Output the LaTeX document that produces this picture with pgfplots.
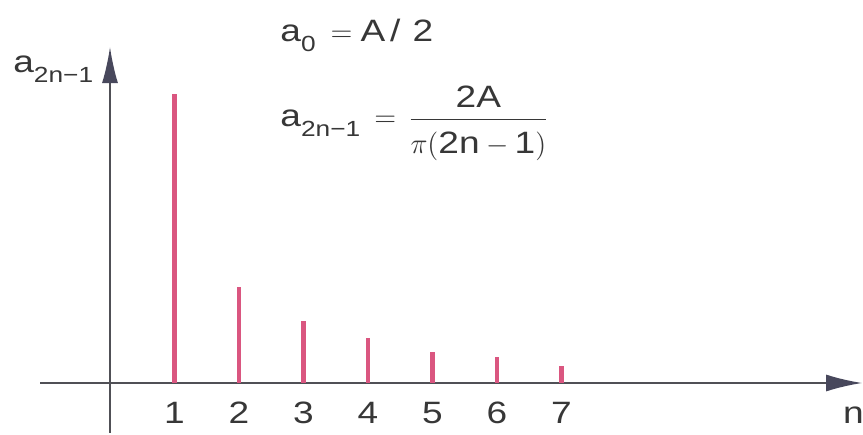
\documentclass[border=0pt]{standalone}
\usepackage{amsmath}
\usepackage{fontspec}
\setmainfont{Liberation Sans}[FakeStretch=1.2]
\usepackage{pgfplots}
\pgfplotsset{compat=1.18}
\usetikzlibrary{arrows.meta}

\definecolor{barpink}{RGB}{218,86,128}
\definecolor{axisgray}{RGB}{80,80,86}
\definecolor{arrowslate}{RGB}{72,72,92}
\definecolor{textgray}{RGB}{55,55,55}

% lowered, smaller index set in the text font
\newcommand\sub[1]{\raisebox{-5bp}{\fontsize{11}{11}\selectfont #1}}

\begin{document}
\begin{tikzpicture}[font=\fontsize{15.5}{18}\selectfont, text=textgray]
\useasboundingbox (-55bp,-26bp) rectangle (376.5bp,191.5bp);
\begin{axis}[
  at={(0,0)}, anchor=origin,
  x=32.25bp, y=72.25bp,
  xmin=-1.085, xmax=11.66,
  ymin=-0.346, ymax=2.325,
  axis lines=middle,
  axis line style={draw=axisgray, line width=0.8bp},
  x axis line style={-{Latex[length=18bp,width=8.5bp,color=arrowslate]}},
  y axis line style={-{Latex[length=18bp,width=8bp,color=arrowslate]}},
  xtick={1,2,3,4,5,6,7},
  xticklabels={1,2,3,4,5,6,7},
  ytick=\empty,
  major tick length=0pt,
  xticklabel style={anchor=base, inner sep=0pt, yshift=-20bp, text=textgray},
  clip=false,
]
  % spectral lines of the odd harmonics
  \addplot[ycomb, no marks, line width=2.1bp, draw=barpink]
    coordinates {(1,2.000) (2,0.664) (3,0.429) (4,0.311) (5,0.215) (6,0.180) (7,0.118)};

  \node[anchor=base west, inner sep=0pt] at (axis cs:11.36,-0.277) {n};
  \node[anchor=base west, inner sep=0pt] at (axis cs:-1.504,2.152)
    {a\sub{2n−1}};
  \node[anchor=base west, inner sep=0pt] at (axis cs:2.636,2.36)
    {a\sub{0}\hspace{7.5bp}$=$\hspace{4bp}A\hspace{2.5bp}/\hspace{6bp}2};
  \node[anchor=base west, inner sep=0pt] at (axis cs:2.636,1.772)
    {a\sub{2n−1}\hspace{7bp}$=$\hspace{6bp}%
     $\dfrac{\text{2A}\rule[-4bp]{0pt}{0pt}}{\rule{0pt}{15bp}\pi(\text{2n}-\text{1})}$};
\end{axis}
\end{tikzpicture}
\end{document}
